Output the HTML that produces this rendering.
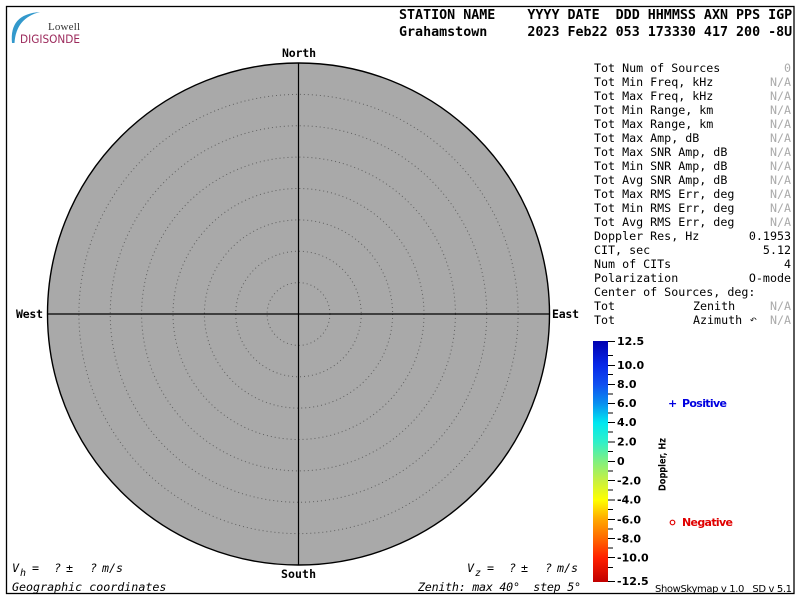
<!DOCTYPE html>
<html><head><meta charset="utf-8"><style>
html,body{margin:0;padding:0;background:#fff;}
svg{display:block;}
.m{font-family:"DejaVu Sans Mono","Liberation Mono",monospace;}
.s{font-family:"DejaVu Sans","Liberation Sans",sans-serif;}
text{white-space:pre;}
</style></head><body>
<svg width="800" height="600" viewBox="0 0 800 600" xmlns="http://www.w3.org/2000/svg">
<defs>
<linearGradient id="cb" x1="0" y1="0" x2="0" y2="1">
<stop offset="0" stop-color="#0000b0"/>
<stop offset="0.1" stop-color="#0828e8"/>
<stop offset="0.18" stop-color="#1050f0"/>
<stop offset="0.26" stop-color="#0890f0"/>
<stop offset="0.34" stop-color="#00e8f0"/>
<stop offset="0.42" stop-color="#30f0c8"/>
<stop offset="0.5" stop-color="#80f080"/>
<stop offset="0.58" stop-color="#c8f040"/>
<stop offset="0.66" stop-color="#ffff00"/>
<stop offset="0.74" stop-color="#ffa800"/>
<stop offset="0.82" stop-color="#ff6800"/>
<stop offset="0.9" stop-color="#ff2000"/>
<stop offset="1" stop-color="#c00000"/>
</linearGradient>
</defs>
<rect x="6.5" y="6.5" width="787.5" height="587" fill="#fff" stroke="#000" stroke-width="1.3"/>

<!-- logo -->
<path d="M12,43 Q9,14 40,12 Q16,18 14.5,43 Z" fill="#3399cc"/>
<text x="48" y="30" font-family="Liberation Serif,serif" font-size="11" fill="#333" textLength="32">Lowell</text>
<text x="20" y="43" class="s" font-size="11.5" fill="#9c2a5c" textLength="60" lengthAdjust="spacingAndGlyphs">DIGISONDE</text>

<!-- header -->
<g class="m" font-weight="bold" font-size="13.33" fill="#000">
<text x="399" y="19">STATION&#160;NAME&#160;&#160;&#160;&#160;YYYY&#160;DATE&#160;&#160;DDD&#160;HHMMSS&#160;AXN&#160;PPS&#160;IGP</text>
<text x="399" y="36">Grahamstown&#160;&#160;&#160;&#160;&#160;2023&#160;Feb22&#160;053&#160;173330&#160;417&#160;200&#160;-8U</text>
</g>

<!-- sky map -->
<circle cx="298.5" cy="314" r="251" fill="#a9a9a9" stroke="#000" stroke-width="1.4"/>
<g fill="none" stroke="#606060" stroke-width="1" stroke-dasharray="1,3">
<circle cx="298.5" cy="314" r="31.4"/>
<circle cx="298.5" cy="314" r="62.75"/>
<circle cx="298.5" cy="314" r="94.1"/>
<circle cx="298.5" cy="314" r="125.5"/>
<circle cx="298.5" cy="314" r="156.9"/>
<circle cx="298.5" cy="314" r="188.25"/>
<circle cx="298.5" cy="314" r="219.6"/>
</g>
<line x1="298.5" y1="63" x2="298.5" y2="565" stroke="#000" stroke-width="1.2"/>
<line x1="47.5" y1="314" x2="549.5" y2="314" stroke="#000" stroke-width="1.2"/>

<g class="m" font-weight="bold" font-size="11.5" fill="#000">
<text x="282" y="57" textLength="34">North</text>
<text x="16" y="318" textLength="27">West</text>
<text x="552" y="318" textLength="27">East</text>
<text x="281" y="578" textLength="35">South</text>
</g>

<!-- stats panel -->
<g class="m" font-size="11.67" fill="#000">
<text x="594" y="72">Tot Num of Sources</text>
<text x="594" y="86">Tot Min Freq, kHz</text>
<text x="594" y="100">Tot Max Freq, kHz</text>
<text x="594" y="114">Tot Min Range, km</text>
<text x="594" y="128">Tot Max Range, km</text>
<text x="594" y="142">Tot Max Amp, dB</text>
<text x="594" y="156">Tot Max SNR Amp, dB</text>
<text x="594" y="170">Tot Min SNR Amp, dB</text>
<text x="594" y="184">Tot Avg SNR Amp, dB</text>
<text x="594" y="198">Tot Max RMS Err, deg</text>
<text x="594" y="212">Tot Min RMS Err, deg</text>
<text x="594" y="226">Tot Avg RMS Err, deg</text>
<text x="594" y="240">Doppler Res, Hz</text>
<text x="594" y="254">CIT, sec</text>
<text x="594" y="268">Num of CITs</text>
<text x="594" y="282">Polarization</text>
<text x="594" y="296">Center of Sources, deg:</text>
<text x="594" y="310">Tot</text>
<text x="594" y="324">Tot</text>
<text x="693" y="310">Zenith</text>
<text x="693" y="324">Azimuth</text>
</g>
<g class="m" font-size="11.67" text-anchor="end" fill="#aaaaaa">
<text x="791" y="72">0</text>
<text x="791" y="86">N/A</text>
<text x="791" y="100">N/A</text>
<text x="791" y="114">N/A</text>
<text x="791" y="128">N/A</text>
<text x="791" y="142">N/A</text>
<text x="791" y="156">N/A</text>
<text x="791" y="170">N/A</text>
<text x="791" y="184">N/A</text>
<text x="791" y="198">N/A</text>
<text x="791" y="212">N/A</text>
<text x="791" y="226">N/A</text>
<text x="791" y="310">N/A</text>
<text x="791" y="324">N/A</text>
</g>
<g class="m" font-size="11.67" text-anchor="end" fill="#000">
<text x="791" y="240">0.1953</text>
<text x="791" y="254">5.12</text>
<text x="791" y="268">4</text>
<text x="791" y="282">O-mode</text>
</g>
<text x="750" y="323" class="s" font-size="8" fill="#000">↶</text>

<!-- colorbar -->
<rect x="593" y="341" width="15" height="241" fill="url(#cb)"/>
<g stroke="#000" stroke-width="1">
<line x1="608" y1="341.5" x2="615" y2="341.5"/>
<line x1="608" y1="355.5" x2="613" y2="355.5"/>
<line x1="608" y1="365.5" x2="615" y2="365.5"/>
<line x1="608" y1="374.5" x2="613" y2="374.5"/>
<line x1="608" y1="384.5" x2="615" y2="384.5"/>
<line x1="608" y1="394" x2="613" y2="394"/>
<line x1="608" y1="403.5" x2="615" y2="403.5"/>
<line x1="608" y1="413" x2="613" y2="413"/>
<line x1="608" y1="422.5" x2="615" y2="422.5"/>
<line x1="608" y1="432" x2="613" y2="432"/>
<line x1="608" y1="442" x2="615" y2="442"/>
<line x1="608" y1="451.5" x2="613" y2="451.5"/>
<line x1="608" y1="461.5" x2="615" y2="461.5"/>
<line x1="608" y1="471" x2="613" y2="471"/>
<line x1="608" y1="480.5" x2="615" y2="480.5"/>
<line x1="608" y1="490" x2="613" y2="490"/>
<line x1="608" y1="500" x2="615" y2="500"/>
<line x1="608" y1="509.5" x2="613" y2="509.5"/>
<line x1="608" y1="519.5" x2="615" y2="519.5"/>
<line x1="608" y1="529" x2="613" y2="529"/>
<line x1="608" y1="538.5" x2="615" y2="538.5"/>
<line x1="608" y1="548" x2="613" y2="548"/>
<line x1="608" y1="557.5" x2="615" y2="557.5"/>
<line x1="608" y1="567.5" x2="613" y2="567.5"/>
<line x1="608" y1="581.5" x2="615" y2="581.5"/>
</g>
<g class="s" font-weight="bold" font-size="11" fill="#000">
<text x="617" y="345">12.5</text>
<text x="617" y="369">10.0</text>
<text x="617" y="388">8.0</text>
<text x="617" y="407">6.0</text>
<text x="617" y="426">4.0</text>
<text x="617" y="445.5">2.0</text>
<text x="617" y="465">0</text>
<text x="617" y="484.5">-2.0</text>
<text x="617" y="503.5">-4.0</text>
<text x="617" y="523.5">-6.0</text>
<text x="617" y="542.5">-8.0</text>
<text x="617" y="561.5">-10.0</text>
<text x="617" y="585">-12.5</text>
</g>
<text transform="translate(665.5,491) rotate(-90)" class="s" font-weight="bold" font-size="10" fill="#000" textLength="53" lengthAdjust="spacingAndGlyphs">Doppler, Hz</text>

<g class="s" font-weight="bold" font-size="11">
<text x="668" y="407" fill="#0000e0">+</text>
<text x="682" y="407" fill="#0000e0" textLength="45">Positive</text>
<circle cx="672.5" cy="522.5" r="2.3" fill="none" stroke="#e00000" stroke-width="1.2"/>
<text x="682" y="526" fill="#e00000" textLength="51">Negative</text>
</g>

<text x="655" y="592" class="s" font-size="10" fill="#000" textLength="137">ShowSkymap&#160;v&#160;1.0&#160;&#160;&#160;SD&#160;v&#160;5.1</text>

<!-- bottom annotations -->
<g class="m" font-style="italic" font-size="11.67" fill="#000">
<text x="12" y="572">V</text>
<text x="20" y="576" font-size="10">h</text>
<text x="32" y="572">=</text>
<text x="54" y="572">?</text>
<text x="66" y="572">±</text>
<text x="90" y="572">?</text>
<text x="102" y="572">m/s</text>
<text x="12" y="591">Geographic coordinates</text>

<text x="467" y="572">V</text>
<text x="475" y="576" font-size="10">z</text>
<text x="487" y="572">=</text>
<text x="509" y="572">?</text>
<text x="521" y="572">±</text>
<text x="545" y="572">?</text>
<text x="557" y="572">m/s</text>
<text x="418" y="591" textLength="163">Zenith:&#160;max&#160;40°&#160;&#160;step&#160;5°</text>
</g>
</svg>
</body></html>
